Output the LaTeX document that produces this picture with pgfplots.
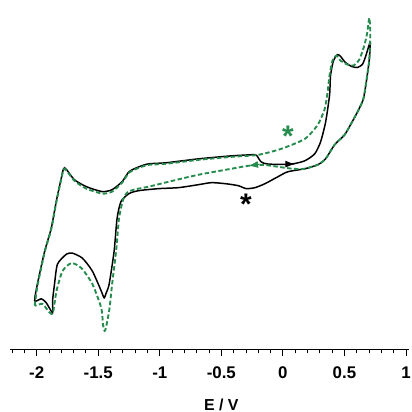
\documentclass[border=0pt]{standalone}
\usepackage{pgfplots}
\pgfplotsset{compat=1.18}
\usepackage{fontspec}
\setmainfont{Liberation Sans}
\usetikzlibrary{arrows.meta}
\definecolor{cvgreen}{RGB}{38,140,78}
\begin{document}
\begin{tikzpicture}
\begin{axis}[
  scale only axis, width=402pt, height=349pt,
  xmin=-2.218, xmax=1.024, ymin=0, ymax=349,
  axis lines*=left,
  y axis line style={draw=none},
  ytick=\empty,
  x axis line style={black, line width=0.9pt},
  clip=false,
  xtick={-2,-1.5,-1,-0.5,0,0.5,1},
  xticklabels={-2,-1.5,-1,-0.5,0,0.5,1},
  minor xtick={-2.2,-2.1,...,1.0},
  xtick align=outside,
  major tick length=7pt, minor tick length=4pt,
  major x tick style={draw=black, line width=0.9pt},
  minor x tick style={draw=black, line width=0.9pt},
  xticklabel style={font=\fontsize{17}{17}\selectfont\bfseries, yshift=-7pt},
]
% major tick marks (drawn as combs below the axis line)
\addplot[ycomb, black, line width=0.9pt, mark=none] coordinates {
(-2,-7)(-1.5,-7)(-1,-7)(-0.5,-7)(0,-7)(0.5,-7)(1,-7)};
% black CV
\addplot[black, line width=1.5pt, smooth, tension=0.4] coordinates {
(-0.228,196.3)(-0.210,195)(-0.177,189)(-0.121,186.7)(0.065,186.7)
(0.177,190)(0.258,197)(0.306,209)(0.347,229)(0.379,256)(0.387,276)
(0.411,291)(0.444,297)(0.470,295)(0.508,289)(0.560,285)(0.605,284)
(0.645,287)(0.669,294)(0.694,304)(0.710,309)
(0.702,292)(0.685,276)(0.677,269)(0.653,252)(0.605,239)(0.548,226)
(0.500,216)(0.419,206)(0.347,192)(0.282,186)(0.177,182)(0.040,179)
(-0.040,174)(-0.145,167)(-0.226,163)(-0.298,162)(-0.363,165)(-0.468,167)
(-0.581,168)(-0.685,166)(-0.847,163)(-1.008,162)(-1.169,160)(-1.25,157)
(-1.315,149)(-1.347,132)(-1.371,99)(-1.411,66)(-1.435,57)(-1.452,52)
(-1.476,59)(-1.548,79)(-1.629,92)(-1.710,97)(-1.758,96)(-1.831,86)
(-1.855,66)(-1.871,49)(-1.871,37)(-1.922,47)(-1.962,51)(-2.016,49)
(-1.994,66)(-1.935,99)(-1.882,122)(-1.841,149)(-1.801,172)(-1.774,183)
(-1.694,171)(-1.597,164)(-1.468,159)(-1.387,161)(-1.306,169)(-1.25,179)
(-1.169,184)(-1.089,187)(-0.952,188)(-0.685,192)(-0.419,195)(-0.228,196.3)
};
% green CV
\addplot[cvgreen, line width=1.9pt, dash pattern=on 4.5pt off 2.5pt, smooth, tension=0.4] coordinates {
(-2.016,44)(-1.994,64)(-1.935,98)(-1.882,121)(-1.841,148)(-1.801,171)(-1.774,182)
(-1.694,170)(-1.597,162)(-1.468,157)(-1.387,159)(-1.306,168)(-1.25,178)
(-1.169,183)(-1.089,186)(-0.952,187)(-0.685,191)(-0.419,194)(-0.202,196)
(-0.016,202)(0.177,212)(0.282,226)(0.339,242)(0.363,259)(0.379,276)
(0.403,291)(0.435,296)(0.468,291)(0.524,287)(0.573,286)(0.621,292)
(0.661,306)(0.685,319)(0.702,334)
(0.710,319)(0.702,292)(0.685,276)(0.653,252)(0.605,239)(0.548,226)
(0.500,216)(0.419,206)(0.347,192)(0.282,186)(0.177,182)(0.081,182)
(-0.040,184)(-0.161,186)(-0.282,185)(-0.419,182)(-0.685,176)(-0.927,169)
(-1.089,164)(-1.21,161)(-1.266,158)(-1.298,151)(-1.331,132)(-1.355,99)
(-1.387,66)(-1.411,39)(-1.444,19)(-1.460,24)(-1.476,42)(-1.548,66)
(-1.637,82)(-1.718,87)(-1.790,79)(-1.839,59)(-1.871,36)(-1.920,41)
(-1.952,46)(-2.016,44)
};
% arrows
\addplot[black, line width=1pt, -{Latex[length=10pt,width=7pt]}] coordinates {(0.0,186.7)(0.1,186.7)};
\addplot[cvgreen, line width=1pt, -{Latex[length=10pt,width=7pt]}] coordinates {(-0.19,186.5)(-0.282,185)};
% asterisks
\node[text=cvgreen, font=\fontsize{30}{30}\selectfont\bfseries] at (axis cs:0.04,215) {*};
\node[text=black, font=\fontsize{30}{30}\selectfont\bfseries] at (axis cs:-0.30,146) {*};
\node[anchor=base, font=\fontsize{16}{16}\selectfont\bfseries] at (axis cs:-0.5,-61) {E / V};
\coordinate (bl) at (axis cs:-2.298,-63);
\coordinate (tr) at (axis cs:1.048,352);
\end{axis}
\pgfresetboundingbox
\useasboundingbox (bl) rectangle (tr);
\end{tikzpicture}
\end{document}
